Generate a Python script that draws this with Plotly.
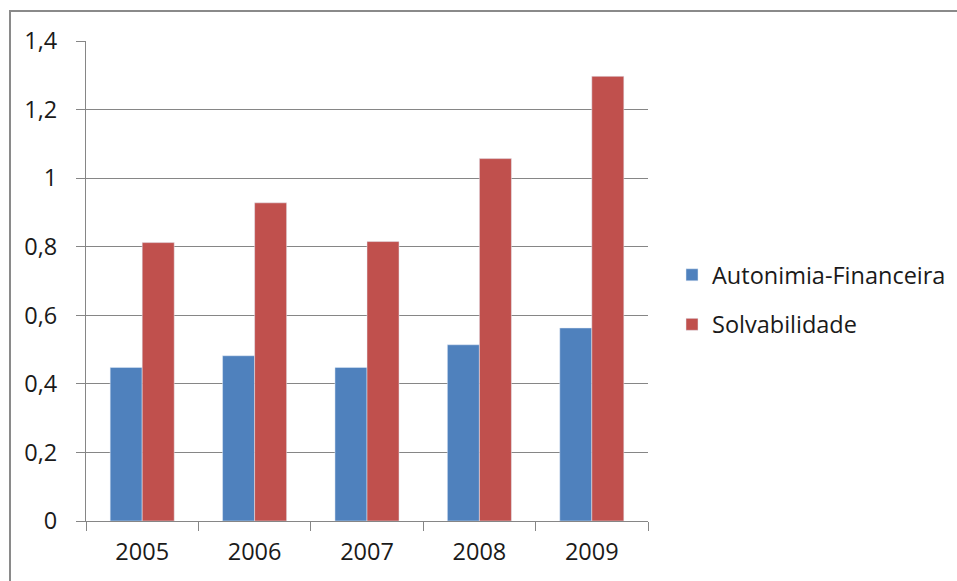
import plotly.graph_objects as go

# Financial ratios by year
years = ["2005", "2006", "2007", "2008", "2009"]
autonomia = [0.448, 0.482, 0.448, 0.514, 0.563]
solvabilidade = [0.812, 0.928, 0.815, 1.057, 1.297]
y_ticks = [0, 0.2, 0.4, 0.6, 0.8, 1.0, 1.2, 1.4]

BLUE = "#4F81BD"
RED = "#C0504D"
GRID = "#868686"
FONT = "Open Sans"
TXT = "#1a1a1a"
FS = 23.5

W, H = 957, 581
L, R, T, B = 86, 309, 41, 60
pw, ph = W - L - R, H - T - B

def px_x(x):
    return (x - L) / pw

def px_y(y):
    return (H - B - y) / ph

fig = go.Figure()
fig.add_trace(go.Bar(x=years, y=autonomia, name="Autonimia-Financeira",
                     marker_color=BLUE, legendgroup="a"))
fig.add_trace(go.Bar(x=years, y=solvabilidade, name="Solvabilidade",
                     marker_color=RED, legendgroup="b"))

fig.update_layout(
    width=W, height=H,
    margin=dict(l=L, r=R, t=T, b=B, pad=0, autoexpand=False),
    paper_bgcolor="white", plot_bgcolor="white",
    separators=",.",
    barmode="group", bargap=0.43, bargroupgap=0,
    font=dict(family=FONT, size=FS, color=TXT),
    showlegend=True,
    legend=dict(x=px_x(672), y=px_y(253), xanchor="left", yanchor="top",
                font=dict(family=FONT, size=FS, color=TXT),
                tracegroupgap=16, bgcolor="rgba(0,0,0,0)"),
    shapes=[dict(type="rect", xref="paper", yref="paper",
                 x0=px_x(10), y0=px_y(11), x1=px_x(1200), y1=px_y(800),
                 line=dict(color="#8a8a8a", width=2), fillcolor="rgba(0,0,0,0)",
                 layer="below")],
)

fig.update_xaxes(
    showline=True, linecolor=GRID, linewidth=1,
    ticks="outside", tickson="boundaries", ticklen=9, tickcolor=GRID,
    showgrid=False, tickfont=dict(size=FS, color=TXT), ticklabelstandoff=10,
)
fig.update_yaxes(
    range=[0, 1.4], tickvals=y_ticks,
    showline=True, linecolor=GRID, linewidth=1,
    ticks="outside", ticklen=9, tickcolor=GRID,
    showgrid=True, gridcolor=GRID, gridwidth=1,
    zeroline=False, tickfont=dict(size=FS, color=TXT), ticklabelstandoff=14,
)

fig.write_html("out.html")
